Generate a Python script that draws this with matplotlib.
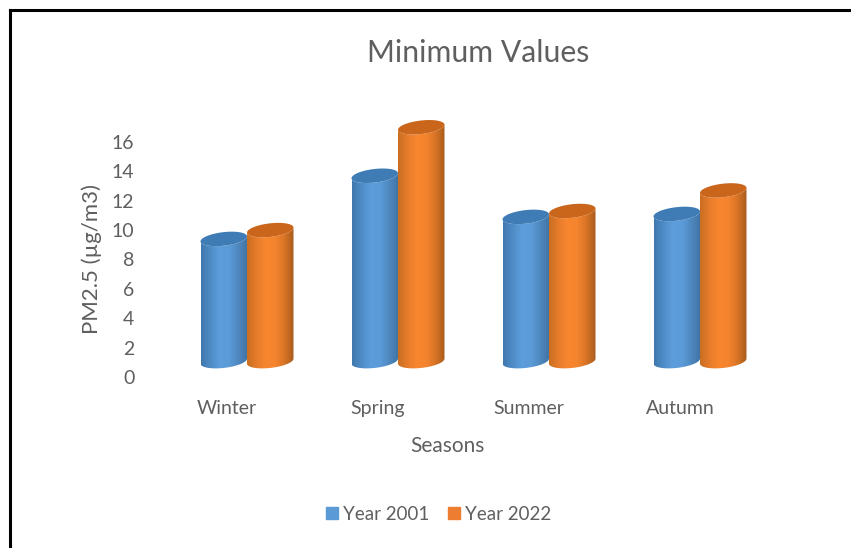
import numpy as np
import matplotlib
matplotlib.use("Agg")
import matplotlib.pyplot as plt
from matplotlib.colors import LinearSegmentedColormap
from matplotlib.patches import Patch, Polygon

seasons = ["Winter", "Spring", "Summer", "Autumn"]
year_2001 = [9.4, 13.7, 10.9, 11.1]
year_2022 = [10.0, 17.0, 11.3, 12.7]
y_ticks = [0, 2, 4, 6, 8, 10, 12, 14, 16]

plt.rcParams["font.family"] = ["Lato", "DejaVu Sans"]
grey = "#5f5f5f"

W, H = 851, 548
fig = plt.figure(figsize=(W / 100, H / 100), dpi=100)

# axes box in pixels of the image
left, right, y0, top = 140, 760, 377, 115
ax = fig.add_axes([left / W, 1 - y0 / H, (right - left) / W, (y0 - top) / H])
px_x = 151.0
px_y = 14.69
first_center = 247.0
ax.set_xlim((left - first_center) / px_x, (right - first_center) / px_x)
ax.set_ylim(0, (y0 - top) / px_y)

bar_w = 46.5 / px_x
floor = 1.08  # the 3d floor sits above the zero label
round_px = 6.8
tilt_px = 2.5

blue_map = LinearSegmentedColormap.from_list(
    "b", ["#3f78ad", "#4f8cc6", "#5c9ddb", "#5b9bd8", "#4f88bf", "#3f72a3"])
orange_map = LinearSegmentedColormap.from_list(
    "o", ["#c96e22", "#e67c2c", "#f8862f", "#f5842e", "#d87426", "#a85c1c"])


def ellipse(cx, cy):
    t = np.linspace(0, 2 * np.pi, 80)
    x = cx + bar_w / 2 * np.cos(t)
    y = cy + (round_px * np.sin(t) + tilt_px * np.cos(t)) / px_y
    return np.column_stack([x, y])


def cylinder(cx, value, cmap, top_color, z):
    t = np.linspace(np.pi, 2 * np.pi, 50)
    xs = cx + bar_w / 2 * np.cos(t)
    low = (round_px * np.sin(t) + tilt_px * np.cos(t)) / px_y
    body = np.vstack([
        np.column_stack([xs, floor + low]),
        np.column_stack([xs[::-1], value + low[::-1]]),
    ])
    clip = Polygon(body, closed=True, transform=ax.transData, fc="none", ec="none")
    ax.add_patch(clip)
    grad = np.linspace(0, 1, 200).reshape(1, -1)
    im = ax.imshow(grad, cmap=cmap, aspect="auto", zorder=z, interpolation="bilinear",
                   extent=[cx - bar_w / 2, cx + bar_w / 2, floor - 1, value + 1])
    im.set_clip_path(clip)
    ax.add_patch(Polygon(ellipse(cx, value), closed=True, fc=top_color, ec="none", zorder=z + 0.1))


for i in range(len(seasons)):
    cylinder(i - bar_w / 2, year_2001[i], blue_map, "#3f7cb6", 2)
    cylinder(i + bar_w / 2, year_2022[i], orange_map, "#c9661c", 3)

ax.set_xlim((left - first_center) / px_x, (right - first_center) / px_x)
ax.set_ylim(0, (y0 - top) / px_y)

for s in ax.spines.values():
    s.set_visible(False)
ax.patch.set_alpha(0)
ax.set_yticks(y_ticks)
ax.set_yticklabels([str(v) for v in y_ticks], fontsize=14, color=grey)
ax.set_xticks([i - 0.132 for i in range(len(seasons))])
ax.set_xticklabels(seasons, fontsize=14, color=grey)
ax.tick_params(axis="both", length=0)
ax.tick_params(axis="x", pad=16.5)
ax.tick_params(axis="y", pad=4)

fig.text(478 / W, 1 - 53 / H, "Minimum Values", fontsize=21.7, color=grey, ha="center", va="center")
fig.text(92 / W, 1 - 259 / H, "PM2.5 (µg/m3)", fontsize=16, color=grey, rotation=90, ha="center", va="center")
fig.text(447 / W, 1 - 446 / H, "Seasons", fontsize=15, color=grey, ha="center", va="center")

fig.legend(
    handles=[Patch(color="#5b9bd5", label="Year 2001"), Patch(color="#ed7d31", label="Year 2022")],
    loc="center", bbox_to_anchor=(439 / W, 1 - 514 / H), ncol=2, frameon=False,
    fontsize=13.5, labelcolor=grey, handlelength=0.6, handleheight=0.6,
    handletextpad=0.3, columnspacing=1.0)

# black frame, runs off the right and bottom of the image
fig.add_artist(plt.Line2D([9.5 / W, 9.5 / W], [0, 1 - 9.5 / H], color="black", lw=2.2, transform=fig.transFigure))
fig.add_artist(plt.Line2D([9.5 / W, 1], [1 - 9.5 / H, 1 - 9.5 / H], color="black", lw=2.2, transform=fig.transFigure))

fig.savefig("out.png", dpi=100)
